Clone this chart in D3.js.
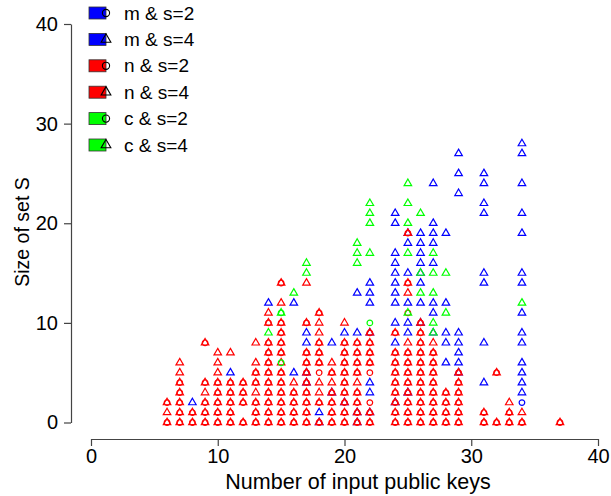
<!DOCTYPE html>
<html><head><meta charset="utf-8">
<script src="https://cdn.jsdelivr.net/npm/d3@7"></script>
<style>
html,body{margin:0;padding:0;background:#fff;}
svg{display:block;font-family:"Liberation Sans",Arial,sans-serif;}
</style></head>
<body>
<svg id="chart" width="611" height="496"></svg>
<script>
// ---- data: [x, [y values]] per series ----
const seriesNames = ["m & s=2","m & s=4","n & s=2","n & s=4","c & s=2","c & s=4"];
const seriesColors = ["#0000ff","#0000ff","#ff0000","#ff0000","#00ff00","#00ff00"];
const seriesShapes = ["circle","triangle","circle","triangle","circle","triangle"];

const m2 = [[34,[2]]];
const m4 = [[8,[2]],[11,[5]],[14,[12]],[16,[5,12]],[17,[4,5,8,9]],[18,[0,1]],[19,[3,8]],[20,[2,9]],
  [21,[0,1,9,13]],[22,[1,3,4,9,12,13,14]],[24,[2,8,10,12,13,14,15,16,17,20,21]],
  [25,[3,9,10,12,15,18,19]],[26,[10,12,14,15,16,17,18,19]],[27,[9,11,12,16,18,19,20,24]],
  [28,[6,8,9,12,19]],[29,[5,6,7,8,9,23,25,27]],[31,[4,8,14,15,21,22,24,25]],
  [34,[3,4,5,6,8,9,11,14,15,19,21,24,27,28]]];
const n2 = [[6,[0,2]],[7,[0,1,2,3,4]],[8,[0,1]],[9,[0,1,2,4,8]],[10,[0,1,2,3,4]],[11,[0,1,2,3,4]],
  [12,[0,2,3,4]],[13,[0,1,2,4,5]],[14,[0,1,2,3,4,5,6,7,8,10]],[15,[0,1,2,3,4,5,7,8,9,10,14]],
  [16,[0,1,2,3]],[17,[0,1,2,3,4,5,6,7,10]],[18,[0,2,5,6,7,8,11]],[19,[0,1,2,3,5]],
  [20,[0,1,2,3,4,5,6,7,8]],[21,[0,1,2,3,5,6,7,8]],[22,[0,1,2,5,6,7,8,9]],
  [24,[0,1,2,3,4,5,6,7,9]],[25,[0,1,2,3,4,5,6,7,11,14,19]],[26,[0,1,2,3,4,5,6,7,8,9,10]],
  [27,[0,1,2,3,4,5,6,7]],[28,[0,1,2,3]],[29,[0,1,2,3,4,5]],[31,[0,1]],[32,[0,5]],
  [33,[0,1]],[34,[0]],[37,[0]]];
const n4 = [[6,[0,1,2]],[7,[0,1,2,3,4,5,6]],[8,[0,1]],[9,[0,1,2,3,4,8]],[10,[0,1,2,3,4,5,6,7]],
  [11,[0,1,2,3,4,7]],[12,[0,2,3,4]],[13,[0,1,2,3,4,5,6,8]],[14,[0,1,2,3,4,5,6,7,8,10,11]],
  [15,[0,1,2,3,4,5,6,7,8,9,10,12,14]],[16,[0,1,2,3,4]],[17,[0,1,2,3,4,5,6,7,10,14]],
  [18,[0,2,3,4,6,7,8,9,10,11]],[19,[0,1,2,3,4,5,6]],[20,[0,1,2,3,4,5,6,7,8,10]],
  [21,[0,1,2,3,4,5,6,7,8]],[22,[0,1,6,7,8,9]],[24,[0,1,2,3,4,5,6,7,9]],
  [25,[0,1,2,3,4,5,6,7,8,13,14,19]],[26,[0,1,2,3,4,5,6,7,8,9,10]],[27,[0,1,2,3,4,5,6,7,8]],
  [28,[0,1,2,3]],[29,[0,1,2,3,4,5]],[31,[0,1]],[32,[0,5]],[33,[0,1,2]],[34,[0,1]],[37,[0]]];
const c2 = [[15,[6,11]],[22,[10]]];
const c4 = [[14,[9]],[15,[11]],[16,[13]],[17,[15,16]],[21,[16,17,18]],[22,[17,20,21,22]],
  [25,[11,17,20,22,24]],[26,[13,15,21]],[27,[9,10,13,15,17]],[28,[11,15]],[34,[12]]];
const seriesData = [m2,m4,n2,n4,c2,c4];

const xTicks = [0,10,20,30,40];
const yTicks = [0,10,20,30,40];
const xTitle = "Number of input public keys";
const yTitle = "Size of set S";

// ---- drawing ----
const svg = d3.select("#chart");
const x = d3.scaleLinear().domain([0,40]).range([91,598]);
const y = d3.scaleLinear().domain([0,40]).range([422.5,24]);

function shapePath(shape, r){
  const p = d3.path();
  if(shape==="circle"){ p.arc(0,0,r,0,2*Math.PI); p.closePath(); }
  else {
    const R = 1.555*r, a = 1.347*r, b = 0.7776*r;
    p.moveTo(0,-R); p.lineTo(a,b); p.lineTo(-a,b); p.closePath();
  }
  return p.toString();
}

// axes
const axisColor = "#444";
const yAxis = svg.append("g").attr("transform","translate(71,0)")
  .call(d3.axisLeft(y).tickValues(yTicks).tickSize(7).tickPadding(6).tickSizeOuter(0));
const xAxis = svg.append("g").attr("transform","translate(0,439)")
  .call(d3.axisBottom(x).tickValues(xTicks).tickSize(7).tickPadding(3).tickSizeOuter(0));
[xAxis,yAxis].forEach(g=>{
  g.select(".domain").attr("stroke",axisColor).attr("stroke-width",1.2);
  g.selectAll(".tick line").attr("stroke",axisColor).attr("stroke-width",1.2);
  g.selectAll(".tick text").attr("fill","#000").attr("font-size",20)
    .attr("font-family","Liberation Sans, Arial, sans-serif");
});

svg.append("text").attr("x",358).attr("y",489).attr("text-anchor","middle")
  .attr("font-size",21.5).text(xTitle);
svg.append("text").attr("transform","translate(29,232) rotate(-90)").attr("text-anchor","middle")
  .attr("font-size",19.5).text(yTitle);

// points
seriesData.forEach((ser,i)=>{
  const pts = ser.flatMap(([xv,ys])=>ys.map(yv=>({x:xv,y:yv})));
  svg.append("g").selectAll("path").data(pts).join("path")
    .attr("d",shapePath(seriesShapes[i],2.8))
    .attr("transform",d=>`translate(${x(d.x)},${y(d.y)})`)
    .attr("fill","none").attr("stroke",seriesColors[i]).attr("stroke-width",1.2);
});

// legend
const leg = svg.append("g");
seriesNames.forEach((name,i)=>{
  const cy = 13 + i*26.4;
  leg.append("rect").attr("x",89).attr("y",cy-6).attr("width",17).attr("height",12)
    .attr("fill",seriesColors[i]).attr("stroke","#333").attr("stroke-width",0.8);
  leg.append("path").attr("d",shapePath(seriesShapes[i],3.6))
    .attr("transform",`translate(106,${cy})`).attr("fill","none").attr("stroke","#000").attr("stroke-width",1.1);
  leg.append("text").attr("x",124).attr("y",cy).attr("dy","0.35em").attr("font-size",19).text(name);
});
</script>
</body></html>
